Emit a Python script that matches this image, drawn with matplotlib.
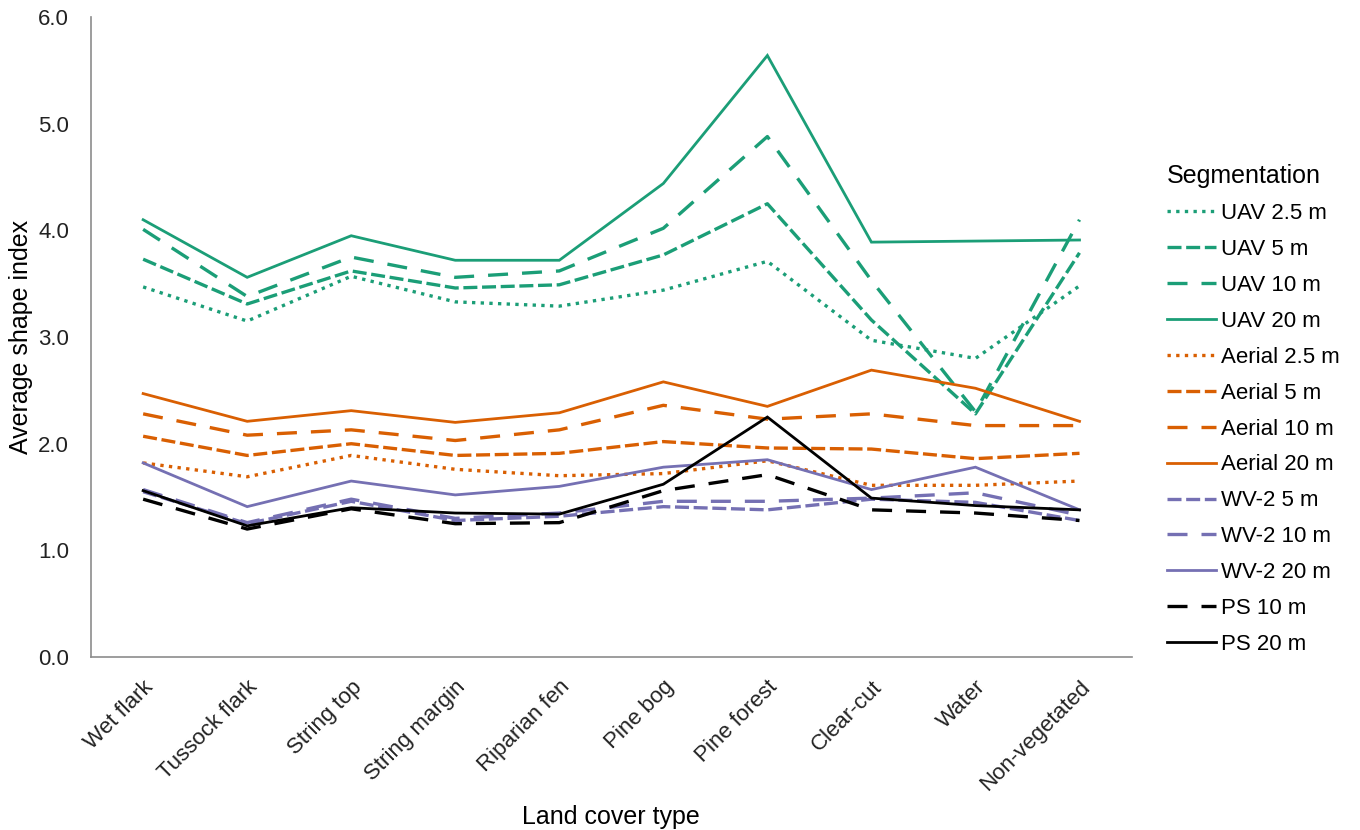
import matplotlib
matplotlib.use("Agg")
import matplotlib.pyplot as plt
from matplotlib.ticker import MultipleLocator, FormatStrFormatter

plt.rcParams["font.family"] = ["Liberation Sans", "DejaVu Sans"]

LAND_COVER = ["Wet flark", "Tussock flark", "String top", "String margin",
              "Riparian fen", "Pine bog", "Pine forest", "Clear-cut", "Water",
              "Non-vegetated"]

uav_2_5 = [3.47, 3.15, 3.57, 3.33, 3.29, 3.44, 3.71, 2.97, 2.80, 3.48]
uav_5 = [3.73, 3.31, 3.62, 3.46, 3.49, 3.77, 4.25, 3.16, 2.28, 3.79]
uav_10 = [4.01, 3.38, 3.75, 3.56, 3.62, 4.02, 4.88, 3.53, 2.30, 4.10]
uav_20 = [4.10, 3.56, 3.95, 3.72, 3.72, 4.44, 5.64, 3.89, 3.90, 3.91]

aerial_2_5 = [1.82, 1.69, 1.89, 1.76, 1.70, 1.72, 1.84, 1.61, 1.61, 1.65]
aerial_5 = [2.07, 1.89, 2.00, 1.89, 1.91, 2.02, 1.96, 1.95, 1.86, 1.91]
aerial_10 = [2.28, 2.08, 2.13, 2.03, 2.13, 2.36, 2.23, 2.28, 2.17, 2.17]
aerial_20 = [2.47, 2.21, 2.31, 2.20, 2.29, 2.58, 2.35, 2.69, 2.52, 2.21]

wv2_5 = [1.55, 1.25, 1.46, 1.28, 1.32, 1.41, 1.38, 1.48, 1.45, 1.28]
wv2_10 = [1.57, 1.26, 1.48, 1.30, 1.35, 1.46, 1.46, 1.49, 1.54, 1.33]
wv2_20 = [1.82, 1.41, 1.65, 1.52, 1.60, 1.78, 1.85, 1.57, 1.78, 1.38]

ps_10 = [1.48, 1.20, 1.39, 1.25, 1.26, 1.56, 1.71, 1.38, 1.35, 1.28]
ps_20 = [1.56, 1.23, 1.40, 1.35, 1.34, 1.62, 2.25, 1.49, 1.42, 1.38]

GREEN = "#1b9e77"
ORANGE = "#d95f02"
PURPLE = "#7570b3"
BLACK = "#000000"

DOT = (0, (1, 1.6))
DASH = (0, (4.2, 1.4))
LONGDASH = (0, (6, 4.2))
SOLID = "-"

series = [
    ("UAV 2.5 m", uav_2_5, GREEN, DOT),
    ("UAV 5 m", uav_5, GREEN, DASH),
    ("UAV 10 m", uav_10, GREEN, LONGDASH),
    ("UAV 20 m", uav_20, GREEN, SOLID),
    ("Aerial 2.5 m", aerial_2_5, ORANGE, DOT),
    ("Aerial 5 m", aerial_5, ORANGE, DASH),
    ("Aerial 10 m", aerial_10, ORANGE, LONGDASH),
    ("Aerial 20 m", aerial_20, ORANGE, SOLID),
    ("WV-2 5 m", wv2_5, PURPLE, DASH),
    ("WV-2 10 m", wv2_10, PURPLE, LONGDASH),
    ("WV-2 20 m", wv2_20, PURPLE, SOLID),
    ("PS 10 m", ps_10, BLACK, LONGDASH),
    ("PS 20 m", ps_20, BLACK, SOLID),
]

fig = plt.figure(figsize=(13.6, 8.3), dpi=100)
ax = fig.add_axes([0.067, 0.2084, 0.765, 0.771])

x = range(len(LAND_COVER))
for label, vals, color, ls in series:
    lw = 2.0 if ls == SOLID else 2.4
    ax.plot(x, vals, color=color, linestyle=ls, linewidth=lw, label=label,
            solid_joinstyle="miter")

ax.set_xlim(-0.5, len(LAND_COVER) - 0.5)
ax.set_ylim(0, 6)
ax.yaxis.set_major_locator(MultipleLocator(1))
ax.yaxis.set_major_formatter(FormatStrFormatter("%.1f"))
ax.set_xticks(list(x))
ax.set_xticklabels(LAND_COVER, rotation=45, ha="right", rotation_mode="anchor")
ax.tick_params(axis="both", length=0, labelsize=16, colors="#222222")
ax.tick_params(axis="y", pad=16)
ax.tick_params(axis="x", pad=14)

for side in ["top", "right"]:
    ax.spines[side].set_visible(False)
for side in ["left", "bottom"]:
    ax.spines[side].set_color("#8c8c8c")
    ax.spines[side].set_linewidth(1.2)

ax.set_ylabel("Average shape index", fontsize=18)
ax.yaxis.set_label_coords(-0.056, 0.5)
ax.set_xlabel("Land cover type", fontsize=18, va="center")
ax.xaxis.set_label_coords(0.5, -0.25)

leg = fig.legend(loc="upper left", bbox_to_anchor=(0.858, 0.802), frameon=False,
                 title="Segmentation", fontsize=16, title_fontsize=18,
                 handlelength=2.2, handletextpad=0.25, labelspacing=0.67,
                 borderaxespad=0, borderpad=0)
leg._legend_box.align = "left"

fig.savefig("out.png", dpi=100)
